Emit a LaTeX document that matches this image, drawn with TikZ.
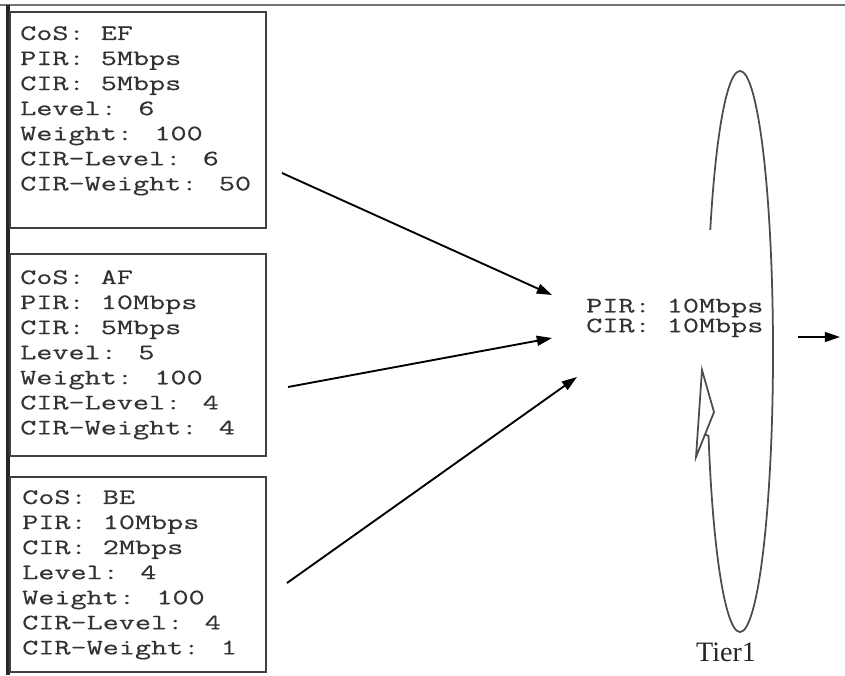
\documentclass[tikz,border=0pt]{standalone}
\usepackage{fontspec}
\usetikzlibrary{arrows.meta,calc}
\newfontfamily\ratefont[FakeStretch=1.42,FakeBold=0.5]{Latin Modern Mono}
\newfontfamily\tierfont{Liberation Serif}

\tikzset{
  boxline/.style={draw=black!75, line width=1.6pt},
  info/.style={anchor=north west, inner sep=0pt, align=left, text=black!80,
    font=\ratefont\fontsize{18.8}{21.4}\selectfont},
  feed/.style={line width=1.6pt, -{Triangle[length=13pt,width=8.5pt]}},
  loopline/.style={draw=black!70, line width=1.5pt},
}

\begin{document}
\begin{tikzpicture}[x=0.03cm, y=0.03cm]
\useasboundingbox (0,0) rectangle (845,675);

% Frame
\draw[black!55, line width=2.5pt] (0,670) -- (845,670);
\draw[black!85, line width=2.8pt] (8,670) -- (8,0);

% Class boxes
\draw[boxline] (10,663) rectangle (266,447);
\draw[boxline] (10,421) rectangle (266,219);
\draw[boxline] (10,198) rectangle (266,3);

\node[info] (ef) at (20,649) {CoS: EF\\PIR: 5Mbps\\CIR: 5Mbps\\Level: 6\\Weight: 100\\CIR-Level: 6\\CIR-Weight: 50};
\node[info] (af) at (20,405) {CoS: AF\\PIR: 10Mbps\\CIR: 5Mbps\\Level: 5\\Weight: 100\\CIR-Level: 4\\CIR-Weight: 4};
\node[info] (be) at (22,185) {CoS: BE\\PIR: 10Mbps\\CIR: 2Mbps\\Level: 4\\Weight: 100\\CIR-Level: 4\\CIR-Weight: 1};

% Tier rates
\node[info, font=\ratefont\fontsize{18.8}{15.6}\selectfont] (rate) at (586,376.5) {PIR: 10Mbps\\CIR: 10Mbps};

% Arrows into the tier
\coordinate (ef-out) at (282,502);
\coordinate (af-out) at (288,288);
\coordinate (be-out) at (287,92);
\coordinate (ef-in) at (552,380);
\coordinate (af-in) at (552,337);
\coordinate (be-in) at (577,298);
\draw[feed] (ef-out) -- (ef-in);
\draw[feed] (af-out) -- (af-in);
\draw[feed] (be-out) -- (be-in);

% Scheduler loop
\coordinate (tier) at (740,323.5);
\coordinate (head-tip) at (702,305);
\coordinate (head-r) at (714,263);
\coordinate (head-l) at (696,218);
\coordinate (head-base) at ($(head-r)!0.5!(head-l)$);
\draw[loopline] (head-base) -- ([shift={(197.5:33 and 280.5)}]tier) arc[start angle=197.5, end angle=514.3, x radius=33, y radius=280.5];
\draw[loopline, line join=miter] (head-tip) -- (head-r) -- (head-l) -- cycle;
\node[font=\tierfont\fontsize{24}{26}\selectfont, text=black!85, anchor=base] (tier-name) at (726,13) {Tier1};

% Output
\coordinate (rate-out) at (798,338);
\coordinate (link) at (840,338);
\draw[feed] (rate-out) -- (link);

\end{tikzpicture}
\end{document}
